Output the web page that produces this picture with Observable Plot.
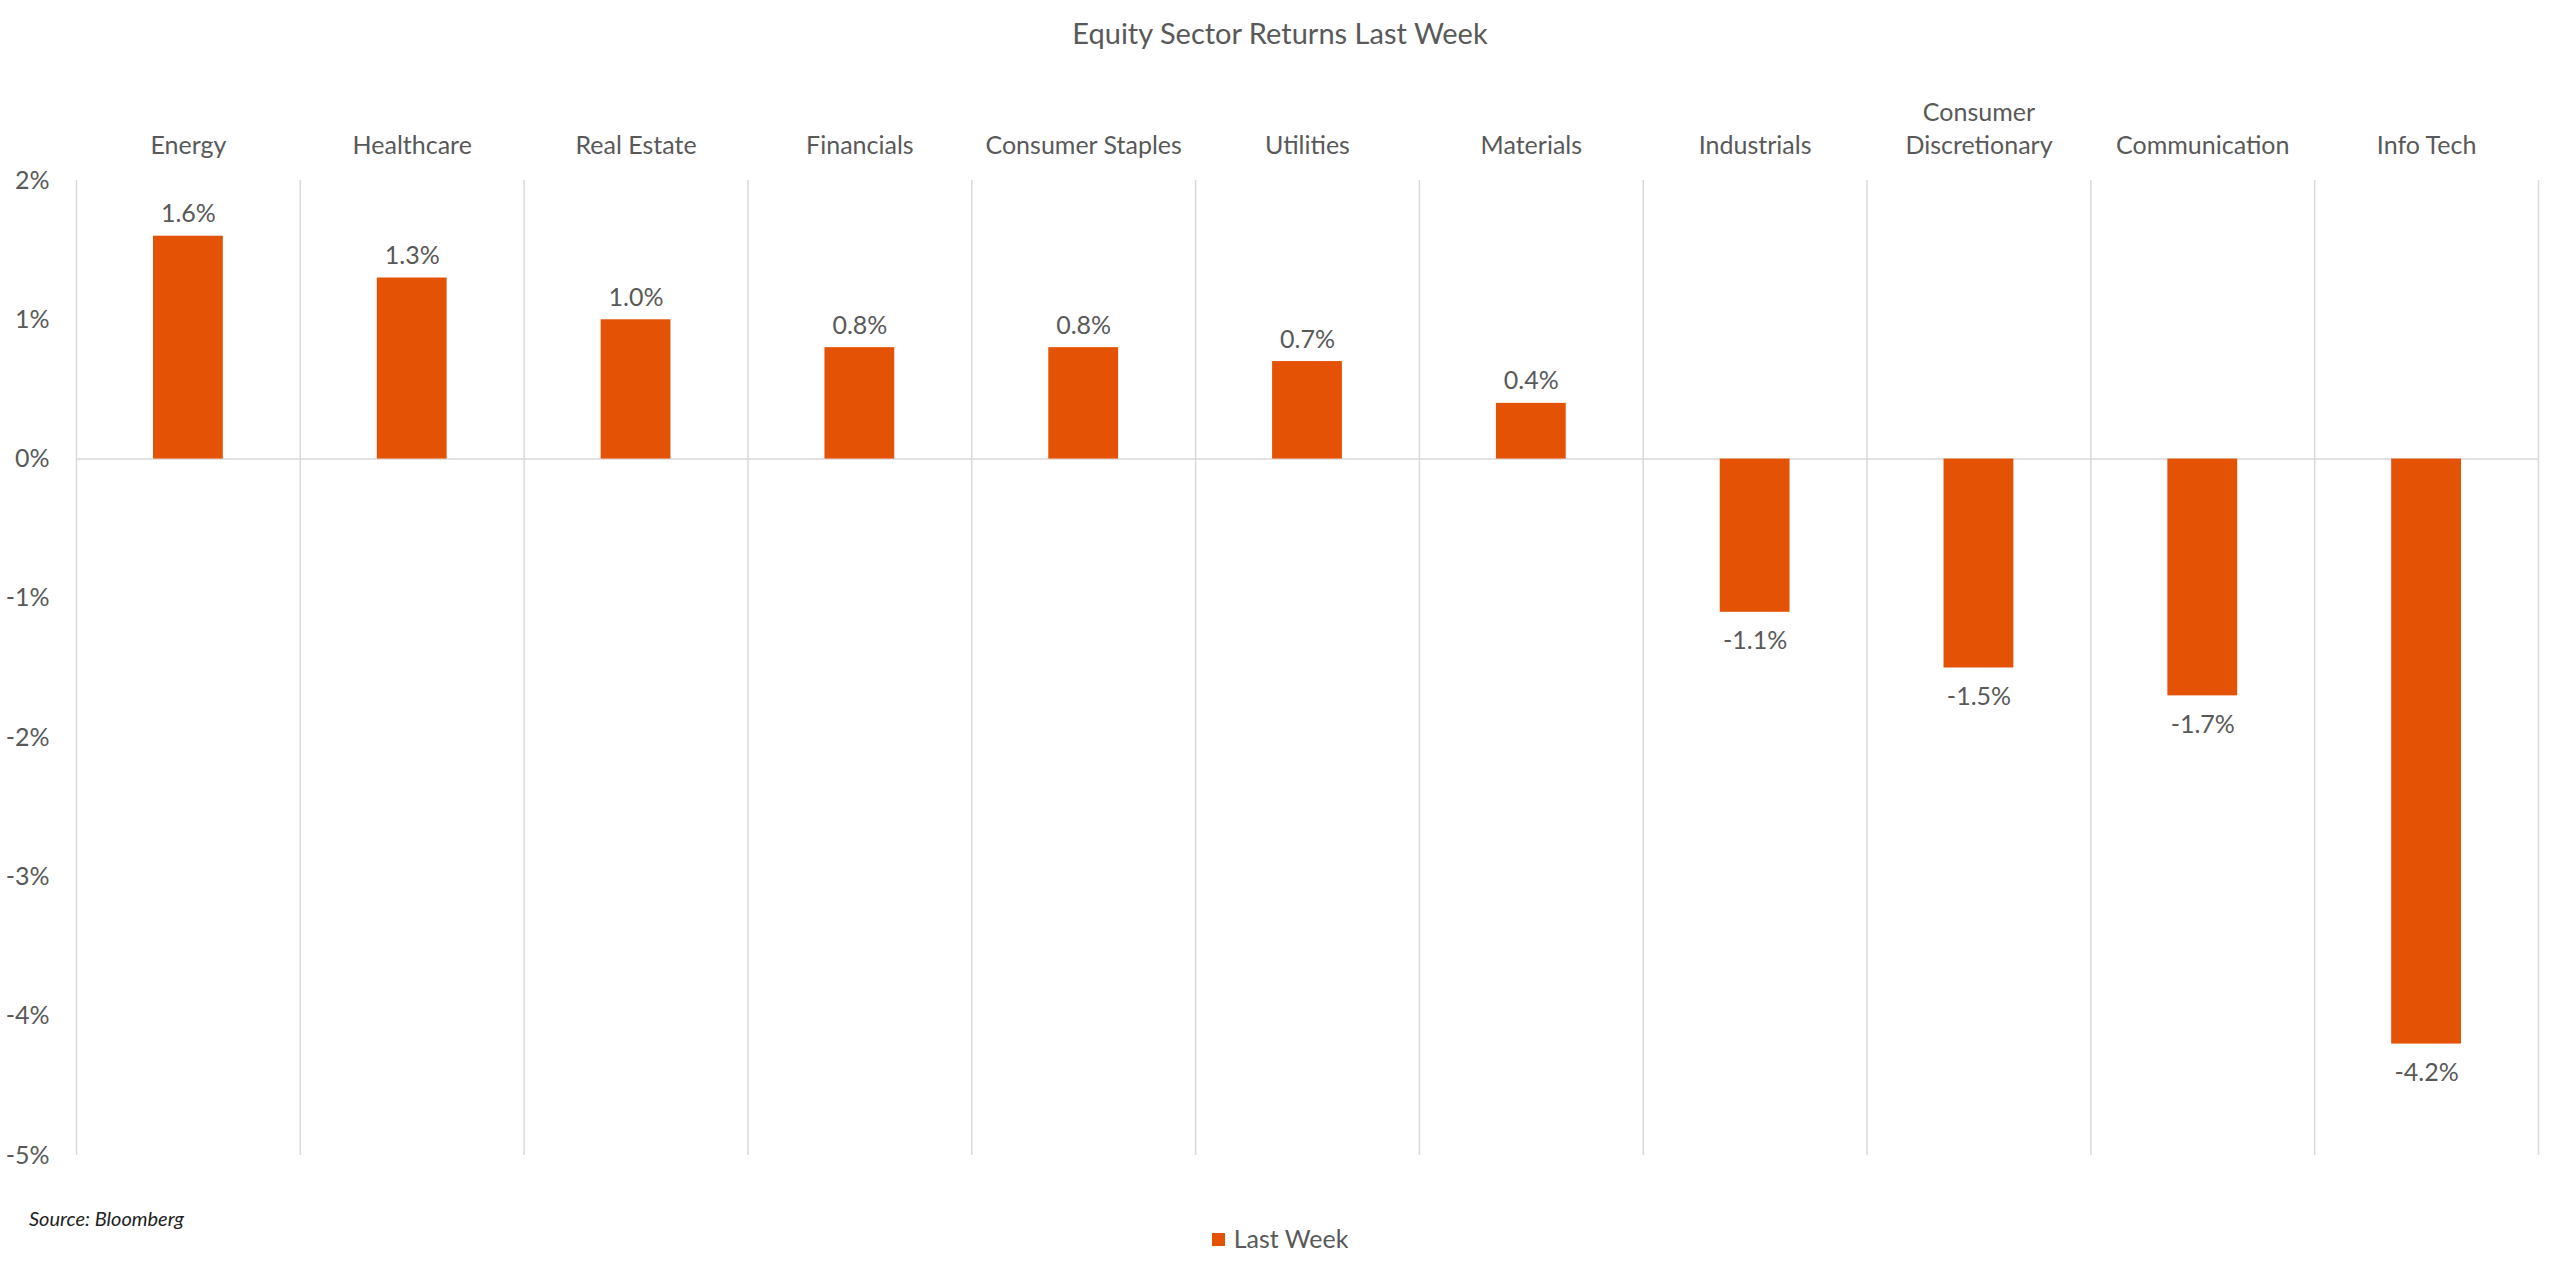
<!DOCTYPE html>
<html>
<head>
<meta charset="utf-8">
<script src="https://cdn.jsdelivr.net/npm/d3@7"></script>
<script src="https://cdn.jsdelivr.net/npm/@observablehq/plot@0.6"></script>
<style>
  html, body { margin: 0; padding: 0; background: #fff; }
  body { width: 2560px; height: 1275px; position: relative; overflow: hidden; font-family: Lato, "Open Sans", sans-serif; color: #595959; }
  #title { height: 66px; line-height: 66px; text-align: center; font-size: 29px; color: #595959; }
  #chart svg { display: block; }
  #footer { position: relative; height: 79px; }
  #source { position: absolute; left: 29px; top: 10px; font-size: 20px; font-style: italic; color: #222; }
  #legend { position: absolute; left: 0; right: 0; top: 27px; text-align: center; font-size: 25px; color: #595959; }
  #legend .sw { display: inline-block; width: 13px; height: 13px; background: #E45205; margin-right: 9px; vertical-align: middle; position: relative; top: -2px; }
</style>
</head>
<body>
<div id="title">Equity Sector Returns Last Week</div>
<div id="chart"></div>
<div id="footer">
  <div id="source">Source: Bloomberg</div>
  <div id="legend"><span class="sw"></span>Last Week</div>
</div>
<script>
const sectors = ["Energy", "Healthcare", "Real Estate", "Financials", "Consumer Staples", "Utilities", "Materials", "Industrials", "Consumer\nDiscretionary", "Communication", "Info Tech"];
const returns = [1.6, 1.3, 1.0, 0.8, 0.8, 0.7, 0.4, -1.1, -1.5, -1.7, -4.2];
const yTicks = [2, 1, 0, -1, -2, -3, -4, -5];
const seriesName = "Last Week";

const data = sectors.map((s, i) => ({sector: s, value: returns[i]}));

const width = 2560, height = 1130;
const marginLeft = 76, marginRight = 22, marginTop = 114, marginBottom = 41;
const halfBand = (width - marginLeft - marginRight) / sectors.length / 2;
const barColor = "#E45205";
const gridColor = "#D9D9D9";
const textColor = "#595959";

const chart = Plot.plot({
  width, height, marginLeft, marginRight, marginTop, marginBottom,
  style: {fontFamily: "Lato, 'Open Sans', sans-serif", fontSize: "25px", color: textColor, background: "#fff"},
  x: {domain: sectors, padding: 0, round: false, axis: null},
  y: {domain: [-5, 2], axis: null},
  marks: [
    Plot.ruleX(sectors, {x: d => d, dx: -halfBand, y1: -5, y2: 2, stroke: gridColor, strokeWidth: 1.5}),
    Plot.ruleX(sectors.slice(-1), {x: d => d, dx: halfBand, y1: -5, y2: 2, stroke: gridColor, strokeWidth: 1.5}),
    Plot.ruleY([0], {stroke: gridColor, strokeWidth: 1.5}),
    Plot.barY(data, {x: "sector", y: "value", fill: barColor, insetLeft: 77, insetRight: 77}),
    Plot.text(data.filter(d => d.value >= 0), {x: "sector", y: "value", text: d => d.value.toFixed(1) + "%", dy: -22, fill: textColor, fontSize: 25}),
    Plot.text(data.filter(d => d.value < 0), {x: "sector", y: "value", text: d => d.value.toFixed(1) + "%", dy: 29, fill: textColor, fontSize: 25}),
    Plot.axisX({anchor: "top", tickSize: 0, tickPadding: 27, label: null, fill: textColor, fontSize: 25, lineHeight: 1.32}),
    Plot.axisY({ticks: yTicks, tickFormat: d => d + "%", tickSize: 0, tickPadding: 27, label: null, fill: textColor, fontSize: 25})
  ]
});
document.getElementById("chart").appendChild(chart);
</script>
</body>
</html>
